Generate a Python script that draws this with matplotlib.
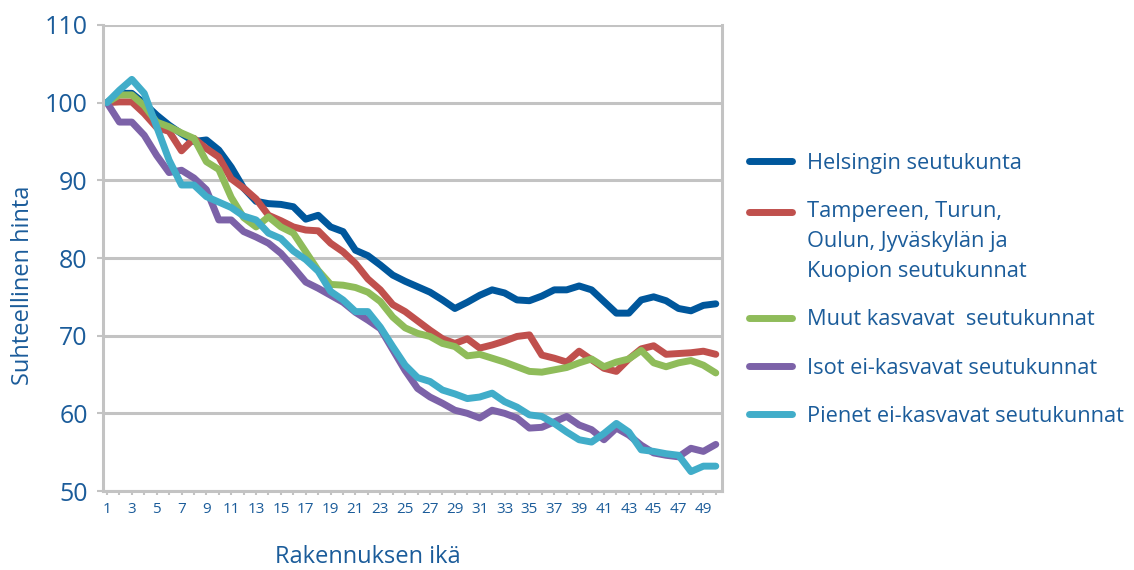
import matplotlib
matplotlib.use('Agg')
import matplotlib.pyplot as plt
import numpy as np

# rakennuksen ikä 1..50
ages = list(range(1, 51))

helsinki = [100, 101.2, 101.2, 99.9, 98.4, 97.1, 96.0, 95.0, 95.2, 93.9,
            91.7, 89.0, 87.3, 87.0, 86.9, 86.6, 85.0, 85.5, 84.0, 83.4,
            81.0, 80.3, 79.1, 77.8, 77.0, 76.3, 75.6, 74.6, 73.5, 74.3,
            75.2, 75.9, 75.5, 74.6, 74.5, 75.1, 75.9, 75.9, 76.4, 75.9,
            74.4, 72.9, 72.9, 74.6, 75.0, 74.5, 73.5, 73.2, 73.9, 74.1]
tampere = [100, 100.1, 100.1, 98.6, 96.8, 96.3, 93.8, 95.4, 94.1, 93.0,
           90.2, 89.0, 87.6, 85.5, 84.8, 84.0, 83.6, 83.5, 81.9, 80.8,
           79.3, 77.3, 75.9, 74.0, 73.1, 71.9, 70.7, 69.6, 69.0, 69.6,
           68.4, 68.8, 69.3, 69.9, 70.1, 67.5, 67.1, 66.6, 68.0, 66.9,
           65.8, 65.4, 67.0, 68.3, 68.7, 67.6, 67.7, 67.8, 68.0, 67.6]
muut = [100, 101.0, 101.0, 99.6, 97.5, 96.9, 96.1, 95.4, 92.4, 91.4,
        87.8, 85.2, 84.0, 85.3, 84.0, 83.2, 80.8, 78.4, 76.6, 76.5,
        76.2, 75.6, 74.4, 72.4, 71.0, 70.3, 69.9, 69.0, 68.6, 67.4,
        67.6, 67.1, 66.6, 66.0, 65.4, 65.3, 65.6, 65.9, 66.5, 67.0,
        66.0, 66.6, 67.0, 68.1, 66.5, 66.0, 66.5, 66.8, 66.2, 65.2]
isot = [100, 97.5, 97.5, 95.8, 93.2, 91.0, 91.3, 90.3, 88.8, 84.9,
        84.9, 83.4, 82.7, 81.9, 80.6, 78.8, 76.9, 76.1, 75.2, 74.3,
        73.0, 72.0, 70.9, 68.2, 65.5, 63.2, 62.1, 61.3, 60.4, 60.0,
        59.4, 60.4, 60.0, 59.4, 58.1, 58.2, 58.9, 59.6, 58.5, 57.9,
        56.6, 58.1, 57.2, 55.9, 54.9, 54.6, 54.4, 55.5, 55.1, 56.0]
pienet = [100, 101.6, 103.0, 101.2, 96.9, 92.6, 89.4, 89.4, 87.9, 87.2,
          86.5, 85.4, 84.9, 83.2, 82.5, 80.9, 79.8, 78.3, 75.7, 74.6,
          73.1, 73.1, 71.1, 68.6, 66.2, 64.6, 64.1, 63.0, 62.5, 61.9,
          62.1, 62.6, 61.5, 60.8, 59.8, 59.6, 58.7, 57.6, 56.6, 56.3,
          57.4, 58.7, 57.6, 55.3, 55.1, 54.8, 54.6, 52.5, 53.2, 53.2]

names = ["Helsingin seutukunta",
         "Tampereen, Turun,\nOulun, Jyväskylän ja\nKuopion seutukunnat",
         "Muut kasvavat  seutukunnat",
         "Isot ei-kasvavat seutukunnat",
         "Pienet ei-kasvavat seutukunnat"]
colors = ['#00579c', '#c0504d', '#8fbc5a', '#7c62a8', '#41adc9']

plt.rcParams['font.family'] = ['Open Sans', 'DejaVu Sans']
txt = '#1b5c9a'
grey = '#c3c3c3'

fig = plt.figure(figsize=(11.34, 5.7), dpi=100)
ax = fig.add_axes([103 / 1134, 1 - 491 / 570, 619 / 1134, 466 / 570])

for vals, name, col in zip([helsinki, tampere, muut, isot, pienet], names, colors):
    ax.plot(ages, vals, color=col, lw=5, label=name,
            solid_joinstyle='round', solid_capstyle='round')

ax.set_xlim(0.68, 50.5)
ax.set_ylim(50, 110)
ax.set_yticks(range(50, 111, 10))
ax.yaxis.grid(True, color=grey, lw=2.2)
ax.set_axisbelow(True)
ax.set_xticks(ages)
ax.set_xticklabels([str(a) if a % 2 else '' for a in ages])

ax.spines['top'].set_visible(False)
for s in ['left', 'right', 'bottom']:
    ax.spines[s].set_color(grey)
    ax.spines[s].set_linewidth(2.2)

ax.tick_params(axis='y', colors=grey, labelcolor=txt, labelsize=18,
               length=4, width=1.5, pad=7)
ax.tick_params(axis='x', colors=grey, labelcolor=txt, labelsize=11,
               length=3, width=1.5, pad=5)

ax.set_ylabel("Suhteellinen hinta", fontsize=17, color=txt, va='center')
ax.yaxis.set_label_coords(-0.129, 0.442)
ax.set_xlabel("Rakennuksen ikä", fontsize=17, color=txt, va='center')
ax.xaxis.set_label_coords(0.427, -0.1416)

leg = ax.legend(loc='upper left', bbox_to_anchor=(749 / 1134, 1 - 153 / 570),
                bbox_transform=fig.transFigure, frameon=False, fontsize=15.7,
                handlelength=1.97, handletextpad=0.69, labelspacing=1.25,
                borderpad=0, borderaxespad=0)
for t in leg.get_texts():
    t.set_color(txt)
    t.set_linespacing(1.56)

# monirivisen selitteen viiva ensimmäisen rivin kohdalle
h = leg.legend_handles[1]
h.set_ydata(np.asarray(h.get_ydata()) + 30 * 72 / 100)

plt.savefig('out.png', dpi=100)
